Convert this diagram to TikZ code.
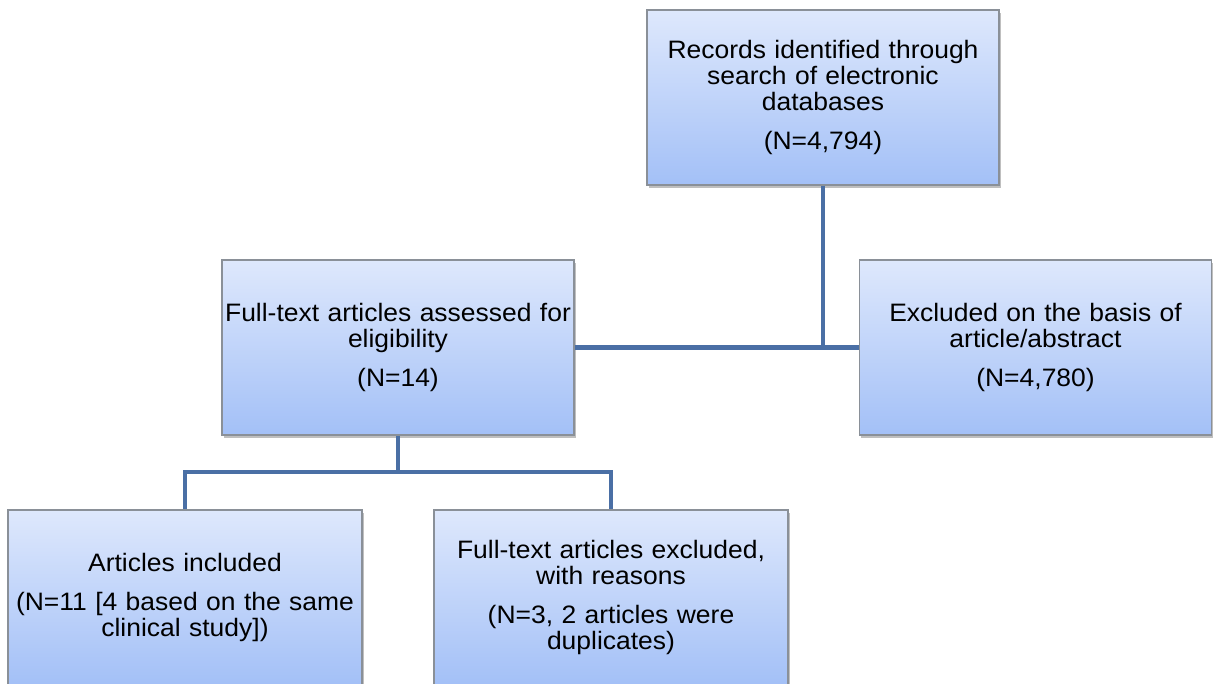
\documentclass[tikz,border=0pt]{standalone}
\usepackage{fontspec}
\setmainfont{Liberation Sans}[FakeStretch=1.05]
\usetikzlibrary{shadows}
\definecolor{boxtop}{RGB}{222,232,252}
\definecolor{boxbot}{RGB}{163,192,247}
\definecolor{boxline}{RGB}{138,144,152}
\definecolor{connc}{RGB}{74,111,165}
\tikzset{
  flowbox/.style={rectangle, draw=boxline, line width=1.5pt,
    top color=boxtop, bottom color=boxbot,
    minimum width=352pt, minimum height=175pt, inner sep=0pt,
    text width=352pt, align=center,
    font=\fontsize{25.2}{26}\selectfont,
    drop shadow={shadow xshift=1.5pt, shadow yshift=-3pt, opacity=0.25, fill=black}},
  conn/.style={draw=connc, line width=4.5pt}
}
\newcommand{\pgap}{\\[13pt]}
\begin{document}
\begin{tikzpicture}[x=1pt,y=-1pt]
\useasboundingbox (0,0) rectangle (1214,684);
\fill[white] (0,0) rectangle (1214,684);
\node[flowbox] (top) at (823,97.5) {Records identified through\\search of electronic\\databases\pgap(N=4,794)};
\node[flowbox] (mid) at (398,347.5) {Full-text articles assessed for\\eligibility\pgap(N=14)};
\node[flowbox, minimum width=351pt] (right) at (1035.5,347.5) {Excluded on the basis of\\article/abstract\pgap(N=4,780)};
\node[flowbox, minimum width=354pt] (bl) at (185,597.5) {Articles included\pgap(N=11 [4 based on the same\\clinical study])};
\node[flowbox, minimum width=354pt] (bm) at (611,597.5) {Full-text articles excluded,\\with reasons\pgap(N=3, 2 articles were\\duplicates)};
\coordinate (j) at (398,472);
\draw[conn] (top.south) -- (top.south |- mid.east);
\draw[conn] (mid.east) -- (right.west);
\draw[conn] (mid.south) -- (j);
\draw[conn] (bl.north) |- (j) -| (bm.north);
\end{tikzpicture}
\end{document}
